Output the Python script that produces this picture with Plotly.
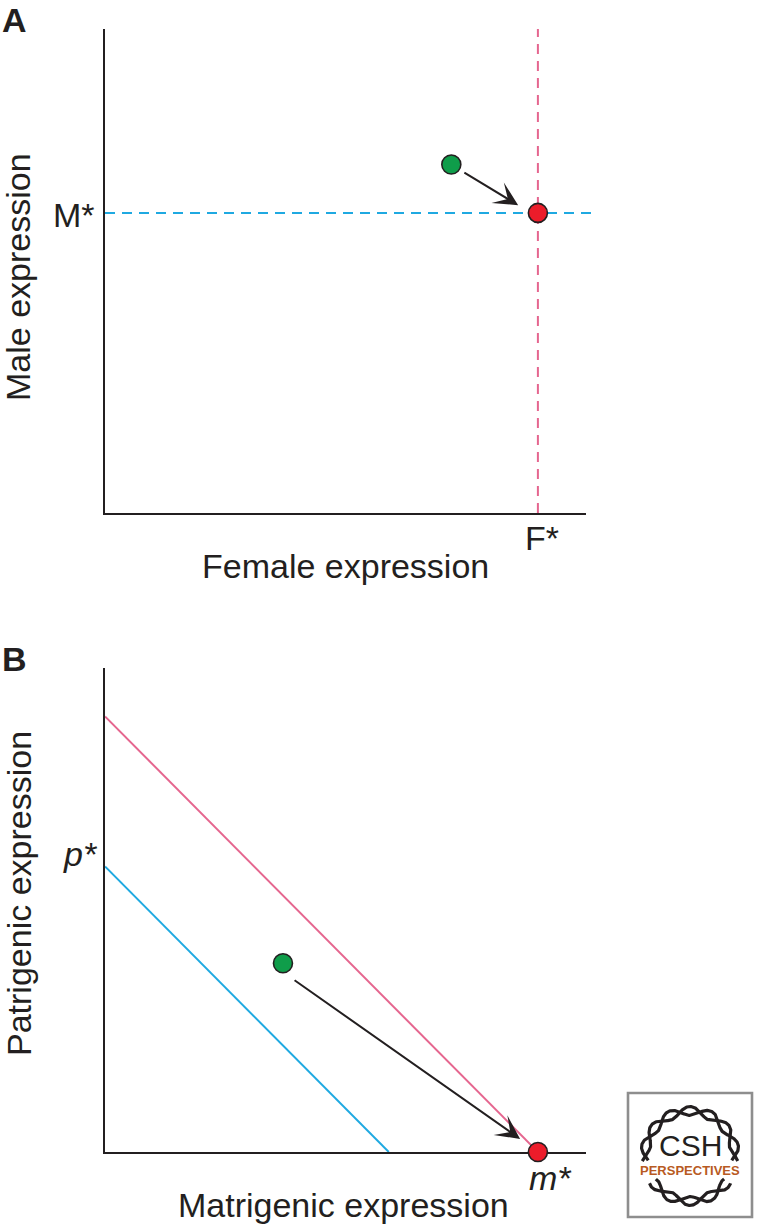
import numpy as np
import plotly.graph_objects as go

W, H = 761, 1227

# ---------------- data (axis units, each axis runs 0-100) ----------------
# Panel A: sex-specific optima
a_m_star = 62          # male optimum (y)
a_f_star = 90          # female optimum (x)
a_start_x = [72]       # green point
a_start_y = [72]
a_end_x = [90]         # red point (F*, M*)
a_end_y = [62]
a_arrow_tail = [74.4, 70.5]
a_arrow_tip = [85.9, 63.6]

# Panel B: parent-of-origin optima
b_p_star = 59
b_m_star = 90
b_pink_x = [0, 90]
b_pink_y = [90, 0]
b_blue_x = [0, 59]
b_blue_y = [59, 0]
b_start_x = [37]
b_start_y = [39]
b_end_x = [90]
b_end_y = [0]
b_arrow_tail = [39.1, 35.7]
b_arrow_tip = [86.3, 2.7]

# ---------------- styling ----------------
FONT = "Liberation Sans, Arial, Helvetica, sans-serif"
INK = "#231f20"
CYAN = "#1fa9e1"
PINK = "#e5668f"
GREEN = "#0f9d4a"
RED = "#ec1c2a"
FS = 34


def xd(px):
    return px / W


def yd(px):
    return 1 - px / H


fig = go.Figure()

marker_line = dict(color=INK, width=1.6)

# Panel A traces
fig.add_trace(go.Scatter(x=a_start_x, y=a_start_y, mode="markers", xaxis="x", yaxis="y",
                         marker=dict(size=19, color=GREEN, line=marker_line),
                         cliponaxis=False, showlegend=False, hoverinfo="skip"))
fig.add_trace(go.Scatter(x=a_end_x, y=a_end_y, mode="markers", xaxis="x", yaxis="y",
                         marker=dict(size=19, color=RED, line=marker_line),
                         cliponaxis=False, showlegend=False, hoverinfo="skip"))

# Panel B traces
fig.add_trace(go.Scatter(x=b_pink_x, y=b_pink_y, mode="lines", xaxis="x2", yaxis="y2",
                         line=dict(color=PINK, width=2), showlegend=False, hoverinfo="skip"))
fig.add_trace(go.Scatter(x=b_blue_x, y=b_blue_y, mode="lines", xaxis="x2", yaxis="y2",
                         line=dict(color=CYAN, width=2), showlegend=False, hoverinfo="skip"))
fig.add_trace(go.Scatter(x=b_start_x, y=b_start_y, mode="markers", xaxis="x2", yaxis="y2",
                         marker=dict(size=19, color=GREEN, line=marker_line),
                         cliponaxis=False, showlegend=False, hoverinfo="skip"))
fig.add_trace(go.Scatter(x=b_end_x, y=b_end_y, mode="markers", xaxis="x2", yaxis="y2",
                         marker=dict(size=19, color=RED, line=marker_line),
                         cliponaxis=False, showlegend=False, hoverinfo="skip"))

# ---------------- logo (decoration) ----------------
cx, cy, R, amp, n = 690, 1156, 45, 4.5, 7
for t0, t1 in [(-6, 186), (214, 326)]:
    th = np.radians(np.linspace(t0, t1, 400))
    for s in (1, -1):
        r = R + s * amp * np.sin(n * th)
        fig.add_trace(go.Scatter(x=cx + r * np.cos(th), y=cy - r * np.sin(th), mode="lines",
                                 xaxis="x3", yaxis="y3", line=dict(color=INK, width=3.2),
                                 showlegend=False, hoverinfo="skip"))

# ---------------- shapes ----------------
shapes = [
    # M* dashed horizontal (extends a little beyond the x axis)
    dict(type="line", xref="x domain", yref="y", x0=0, x1=1.0146, y0=a_m_star, y1=a_m_star,
         line=dict(color=CYAN, width=2, dash="10px,7px"), layer="below"),
    # F* dashed vertical
    dict(type="line", xref="x", yref="y domain", x0=a_f_star, x1=a_f_star, y0=0, y1=1,
         line=dict(color=PINK, width=2, dash="10px,7px"), layer="below"),
    # logo frame
    dict(type="rect", xref="x3", yref="y3", x0=628, x1=752, y0=1093, y1=1217,
         line=dict(color="#8e8e8e", width=2.6)),
]

# ---------------- annotations ----------------
def txt(text, x, y, xref="paper", yref="paper", size=FS, **kw):
    d = dict(text=text, x=x, y=y, xref=xref, yref=yref, showarrow=False,
             font=dict(family=FONT, size=size, color=INK))
    d.update(kw)
    return d


annotations = [
    txt("<b>A</b>", xd(0), yd(20), xanchor="left", yanchor="middle"),
    txt("<b>B</b>", xd(0), yd(659), xanchor="left", yanchor="middle"),
    txt("Male expression", xd(18), yd(277), textangle=-90, xanchor="center", yanchor="middle"),
    txt("Female expression", xd(345), yd(566), xanchor="center", yanchor="middle"),
    txt("Patrigenic expression", xd(19), yd(894), textangle=-90, xanchor="center", yanchor="middle"),
    txt("Matrigenic expression", xd(343), yd(1205), xanchor="center", yanchor="middle"),
    # value labels tied to data positions
    txt("M*", 0, a_m_star, xref="x", yref="y", xanchor="right", yanchor="middle", xshift=-8, yshift=-2.5),
    txt("F*", a_f_star, 0, xref="x", yref="y", xanchor="center", yanchor="middle", xshift=4.5, yshift=-25),
    txt("<i>p*</i>", 0, b_p_star, xref="x2", yref="y2", xanchor="right", yanchor="middle", xshift=-5, yshift=12),
    txt("<i>m*</i>", b_m_star, 0, xref="x2", yref="y2", xanchor="center", yanchor="middle", xshift=13, yshift=-26),
    # logo text
    txt("CSH", 690, 1145, xref="x3", yref="y3", size=30, xanchor="center", yanchor="middle"),
    dict(text="<b>PERSPECTIVES</b>", x=690, y=1170, xref="x3", yref="y3", showarrow=False,
         xanchor="center", yanchor="middle", font=dict(family=FONT, size=13, color="#b85a22")),
]

# arrows
for (tail, tip, xr, yr) in [(a_arrow_tail, a_arrow_tip, "x", "y"), (b_arrow_tail, b_arrow_tip, "x2", "y2")]:
    annotations.append(dict(text="", x=tip[0], y=tip[1], ax=tail[0], ay=tail[1],
                            xref=xr, yref=yr, axref=xr, ayref=yr, showarrow=True,
                            arrowhead=3, arrowsize=2.0, arrowwidth=2, arrowcolor=INK, standoff=0))

axis_common = dict(range=[0, 100], showgrid=False, zeroline=False, showticklabels=False, ticks="",
                   showline=True, linecolor=INK, linewidth=2, layer="below traces", fixedrange=True)
hidden = dict(showgrid=False, zeroline=False, showticklabels=False, ticks="", showline=False, fixedrange=True)

fig.update_layout(
    width=W, height=H,
    margin=dict(l=0, r=0, t=0, b=0),
    paper_bgcolor="white", plot_bgcolor="white",
    showlegend=False,
    xaxis=dict(domain=[xd(105), xd(586)], anchor="y", **axis_common),
    yaxis=dict(domain=[yd(513), yd(29)], anchor="x", **axis_common),
    xaxis2=dict(domain=[xd(105), xd(586)], anchor="y2", **axis_common),
    yaxis2=dict(domain=[yd(1152), yd(668)], anchor="x2", **axis_common),
    xaxis3=dict(domain=[xd(620), xd(760)], range=[620, 760], anchor="y3", **hidden),
    yaxis3=dict(domain=[yd(1225), yd(1085)], range=[1225, 1085], anchor="x3", **hidden),
    shapes=shapes,
    annotations=annotations,
)

fig.write_html(
    "out.html",
    config={"displayModeBar": False},
    post_script="document.body.style.margin='0';document.body.style.padding='0';"
                "document.body.style.overflow='hidden';",
)
